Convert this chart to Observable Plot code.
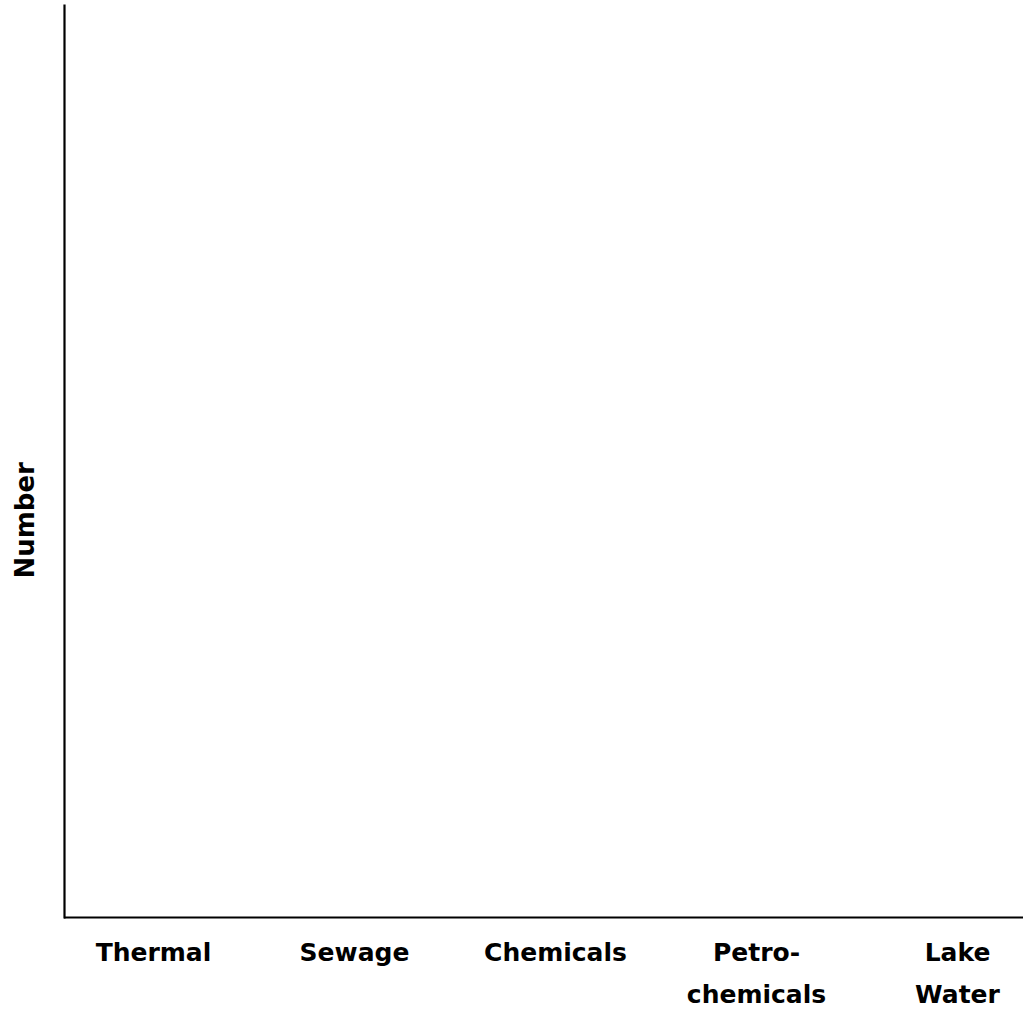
<!DOCTYPE html>
<html>
<head>
<meta charset="utf-8">
<script src="https://cdn.jsdelivr.net/npm/d3@7"></script>
<script src="https://cdn.jsdelivr.net/npm/@observablehq/plot@0.6"></script>
<style>
  html, body { margin: 0; padding: 0; background: #fff; }
</style>
</head>
<body>
<div id="chart"></div>
<script>
const categories = ["Thermal", "Sewage", "Chemicals", "Petrochemicals", "Lake Water"];
const tickLabels = ["Thermal", "Sewage", "Chemicals", "Petro-\nchemicals", "Lake\nWater"];
const yLabel = ["Number"];

const font = "'Comic Sans MS', 'DejaVu Sans', sans-serif";

const chart = Plot.plot({
  width: 1023,
  height: 1013,
  marginLeft: 64,
  marginRight: 0,
  marginTop: 5,
  marginBottom: 96,
  style: { fontFamily: font, fontWeight: "bold", background: "#fff", color: "#000" },
  x: { type: "point", domain: categories, range: [153, 957], padding: 0 },
  y: { domain: [0, 1] },
  marks: [
    Plot.axisX({
      tickSize: 0,
      tickPadding: 13,
      tickFormat: (d) => tickLabels[categories.indexOf(d)],
      fontSize: 25,
      fontWeight: "bold",
      lineHeight: 1.7,
      label: null
    }),
    Plot.axisY({ ticks: [], label: null }),
    Plot.ruleY([0], { stroke: "#000", strokeWidth: 2.2 }),
    Plot.frame({ anchor: "left", stroke: "#000", strokeWidth: 2.2 }),
    Plot.text(yLabel, {
      text: d => d,
      frameAnchor: "left",
      rotate: -90,
      dx: -39,
      dy: 117,
      fontSize: 26,
      fontWeight: "bold"
    })
  ]
});
document.getElementById("chart").appendChild(chart);
</script>
</body>
</html>
